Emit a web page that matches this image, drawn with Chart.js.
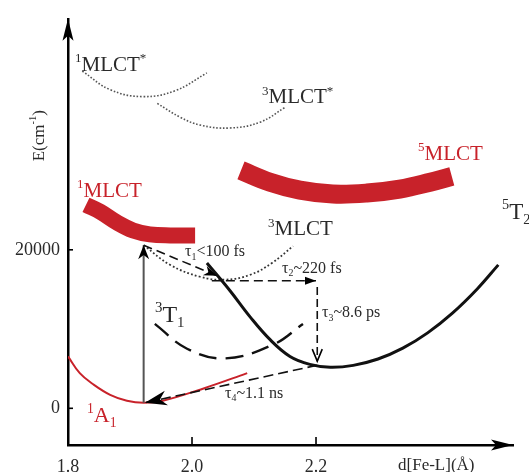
<!DOCTYPE html>
<html><head><meta charset="utf-8">
<script src="https://cdn.jsdelivr.net/npm/chart.js@4"></script>
<style>html,body{margin:0;padding:0;background:#fff;overflow:hidden}</style>
</head><body>
<canvas id="c" width="529" height="472"></canvas>
<script>
// ---- tick labels ----
const xTicks = [1.8, 2.0, 2.2];
const yTicks = [0, 20000];

// ---- potential energy curves (x = d[Fe-L] in Å, y = E in cm^-1) ----
const gsX    = [1.800, 1.819, 1.840, 1.868, 1.895, 1.922, 1.953, 2.021, 2.089];
const gsY    = [6545, 4434, 3068, 1702, 956, 708, 956, 2571, 4434];
const mlct1X = [1.829, 1.852, 1.879, 1.905, 1.932, 1.965, 2.005];
const mlct1Y = [25670, 24800, 23440, 22440, 21950, 21820, 21820];
const mlct5X = [2.079, 2.126, 2.174, 2.227, 2.282, 2.335, 2.384, 2.419];
const mlct5Y = [30020, 28530, 27530, 27040, 27160, 27660, 28530, 29270];
const mlct1sX = [1.823, 1.868, 1.921, 1.973, 2.024];
const mlct1sY = [42560, 40200, 39330, 40080, 42320];
const mlct3sX = [1.944, 1.981, 2.013, 2.061, 2.110, 2.150];
const mlct3sY = [38470, 36730, 35740, 35370, 36110, 37970];
const mlct3X = [1.922, 1.965, 2.013, 2.053, 2.094, 2.129, 2.163];
const mlct3Y = [20580, 18090, 16600, 16230, 16850, 18340, 20460];
const t1X = [1.940, 1.992, 2.053, 2.131, 2.179];
const t1Y = [10650, 7520, 6300, 8040, 10650];
const t2X = [2.024, 2.061, 2.094, 2.126, 2.158, 2.190, 2.223, 2.260, 2.300, 2.340, 2.380, 2.420, 2.460, 2.494];
const t2Y = [18340, 14870, 11510, 8660, 6550, 5550, 5180, 5420, 6220, 7590, 9520, 12010, 15060, 18100];

// ---- transitions (start -> end) ----
const excX  = [1.922, 1.922];  const excY  = [708, 20580];
const tau1X = [1.922, 2.040];  const tau1Y = [20580, 16730];
const tau2X = [2.032, 2.200];  const tau2Y = [16100, 16100];
const tau3X = [2.202, 2.202];  const tau3Y = [15300, 5950];
const tau4X = [2.202, 1.924];  const tau4Y = [5430, 708];

const zip = (xs, ys) => xs.map((x, i) => ({x, y: ys[i]}));

const RED = '#c8222a', INK = '#2a2a2a';
const SERIF = '"Liberation Serif", "Times New Roman", serif';

const curve = (xs, ys, o) => Object.assign({
  data: zip(xs, ys), showLine: true, pointRadius: 0, fill: false,
  tension: 0.4, borderCapStyle: 'butt'
}, o);

const datasets = [
  curve(mlct1X, mlct1Y, {borderColor: RED, borderWidth: 16}),
  curve(mlct5X, mlct5Y, {borderColor: RED, borderWidth: 19}),
  curve(gsX, gsY, {borderColor: RED, borderWidth: 2}),
  curve(mlct1sX, mlct1sY, {borderColor: '#555', borderWidth: 1.6, borderDash: [1.6, 1.8]}),
  curve(mlct3sX, mlct3sY, {borderColor: '#555', borderWidth: 1.6, borderDash: [1.6, 1.8]}),
  curve(mlct3X, mlct3Y, {borderColor: '#333', borderWidth: 1.8, borderDash: [1.8, 2.2]}),
  curve(t1X, t1Y, {borderColor: '#111', borderWidth: 2.4, borderDash: [18, 9]}),
  curve(t2X, t2Y, {borderColor: '#111', borderWidth: 3}),
  curve(excX, excY, {borderColor: '#555', borderWidth: 2, tension: 0, arrow: {type: 'barb', len: 14, w: 5.5}}),
  curve(tau1X, tau1Y, {borderColor: '#111', borderWidth: 1.6, borderDash: [9, 5], tension: 0, arrow: {type: 'barb', len: 13, w: 5}}),
  curve(tau2X, tau2Y, {borderColor: '#111', borderWidth: 1.6, borderDash: [9, 5], tension: 0, arrow: {type: 'fill', len: 11, w: 4}}),
  curve(tau3X, tau3Y, {borderColor: '#111', borderWidth: 1.6, borderDash: [8, 4], tension: 0, arrow: {type: 'open', len: 12, w: 5}}),
  curve(tau4X, tau4Y, {borderColor: '#111', borderWidth: 1.6, borderDash: [10, 5], tension: 0, arrow: {type: 'barb', len: 22, w: 7.5}})
];
datasets.forEach((d, i) => d.order = datasets.length - i);

// ---- text annotations: anchor = left baseline in data coordinates ----
const notes = [
  {parts: [['1', 'sup'], ['MLCT', ''], ['*', 'sup']], x: 1.8113, y: 42560, size: 21, color: INK},
  {parts: [['3', 'sup'], ['MLCT', ''], ['*', 'sup']], x: 2.1129, y: 38470, size: 21, color: INK},
  {parts: [['5', 'sup'], ['MLCT', '']], x: 2.3645, y: 31390, size: 21, color: RED},
  {parts: [['5', 'sup'], ['T', ''], ['2', 'sub']], x: 2.5000, y: 23910, size: 23, color: INK},
  {parts: [['3', 'sup'], ['MLCT', '']], x: 2.1226, y: 21820, size: 21, color: INK},
  {parts: [['1', 'sup'], ['MLCT', '']], x: 1.8145, y: 26670, size: 21, color: RED},
  {parts: [['3', 'sup'], ['T', ''], ['1', 'sub']], x: 1.9403, y: 10890, size: 24, color: INK},
  {parts: [['1', 'sup'], ['A', ''], ['1', 'sub']], x: 1.8306, y: -1776, size: 22, color: RED},
  {parts: [['τ', ''], ['1', 'sub'], ['<100 fs', '']], x: 1.9887, y: 19210, size: 16, color: INK},
  {parts: [['τ', ''], ['2', 'sub'], ['~220 fs', '']], x: 2.1452, y: 17100, size: 16, color: INK},
  {parts: [['τ', ''], ['3', 'sub'], ['~8.6 ps', '']], x: 2.2097, y: 11510, size: 16, color: INK},
  {parts: [['τ', ''], ['4', 'sub'], ['~1.1 ns', '']], x: 2.0532, y: 1329, size: 16, color: INK},
  {parts: [['d[Fe-L](Å)', '']], x: 2.3323, y: -7740, size: 17, color: INK}
];
const yTitle = {parts: [['E(cm', ''], ['-1', 'sup'], [')', '']], offset: 38, y: 34400, size: 17, color: INK};

function richWidth(ctx, parts, size) {
  let w = 0;
  parts.forEach(([t, m]) => {
    const s = m ? size * 0.62 : size;
    ctx.font = s + 'px ' + SERIF;
    w += ctx.measureText(t).width;
  });
  return w;
}
function drawRich(ctx, parts, x, y, size, color) {
  ctx.fillStyle = color;
  ctx.textBaseline = 'alphabetic';
  ctx.textAlign = 'left';
  parts.forEach(([t, m]) => {
    const s = m ? size * 0.62 : size;
    const dy = m === 'sup' ? -size * 0.42 : m === 'sub' ? size * 0.22 : 0;
    ctx.font = s + 'px ' + SERIF;
    ctx.fillText(t, x, y + dy);
    x += ctx.measureText(t).width;
  });
}
function head(ctx, x1, y1, x2, y2, a) {
  const ang = Math.atan2(y2 - y1, x2 - x1);
  ctx.save();
  ctx.translate(x2, y2);
  ctx.rotate(ang);
  ctx.setLineDash([]);
  ctx.fillStyle = '#000';
  ctx.strokeStyle = '#000';
  ctx.lineWidth = 1.6;
  ctx.beginPath();
  if (a.type === 'open') {
    ctx.moveTo(-a.len, -a.w); ctx.lineTo(0, 0); ctx.lineTo(-a.len, a.w);
    ctx.stroke();
  } else {
    ctx.moveTo(0, 0);
    ctx.lineTo(-a.len, -a.w);
    if (a.type === 'barb') ctx.lineTo(-a.len * 0.7, 0);
    ctx.lineTo(-a.len, a.w);
    ctx.closePath();
    ctx.fill();
  }
  ctx.restore();
}

const overlay = {
  id: 'overlay',
  afterDatasetsDraw(chart) {
    const ctx = chart.ctx;
    chart.data.datasets.forEach((ds, i) => {
      if (!ds.arrow) return;
      const pts = chart.getDatasetMeta(i).data;
      const p1 = pts[pts.length - 2], p2 = pts[pts.length - 1];
      head(ctx, p1.x, p1.y, p2.x, p2.y, ds.arrow);
    });
  },
  afterDraw(chart) {
    const ctx = chart.ctx, xs = chart.scales.x, ys = chart.scales.y, ca = chart.chartArea;
    ctx.save();
    // axis arrowheads
    ctx.fillStyle = '#000';
    ctx.beginPath();
    ctx.moveTo(ca.left, ca.top); ctx.lineTo(ca.left - 5.5, ca.top + 22); ctx.lineTo(ca.left, ca.top + 17); ctx.lineTo(ca.left + 5.5, ca.top + 22); ctx.closePath(); ctx.fill();
    ctx.beginPath();
    ctx.moveTo(ca.right, ca.bottom); ctx.lineTo(ca.right - 22, ca.bottom - 5.5); ctx.lineTo(ca.right - 17, ca.bottom); ctx.lineTo(ca.right - 22, ca.bottom + 5.5); ctx.closePath(); ctx.fill();
    // inward tick marks
    ctx.strokeStyle = '#000'; ctx.lineWidth = 1.6;
    xTicks.forEach(v => { const px = xs.getPixelForValue(v); ctx.beginPath(); ctx.moveTo(px, ca.bottom); ctx.lineTo(px, ca.bottom - 8); ctx.stroke(); });
    yTicks.forEach(v => { const py = ys.getPixelForValue(v); ctx.beginPath(); ctx.moveTo(ca.left, py); ctx.lineTo(ca.left + 5, py); ctx.stroke(); });
    // text annotations
    notes.forEach(n => drawRich(ctx, n.parts, xs.getPixelForValue(n.x), ys.getPixelForValue(n.y), n.size, n.color));
    // y axis title (rotated)
    const w = richWidth(ctx, yTitle.parts, yTitle.size);
    ctx.translate(ys.left + yTitle.offset, ys.getPixelForValue(yTitle.y));
    ctx.rotate(-Math.PI / 2);
    drawRich(ctx, yTitle.parts, -w / 2, yTitle.size * 0.33, yTitle.size, yTitle.color);
    ctx.restore();
  }
};

new Chart(document.getElementById('c'), {
  type: 'scatter',
  data: {datasets},
  options: {
    responsive: false, animation: false, devicePixelRatio: 1,
    layout: {padding: {top: 12, right: 16, bottom: 0, left: 0}},
    plugins: {legend: {display: false}, tooltip: {enabled: false}},
    scales: {
      x: {
        type: 'linear', min: 1.8, max: 2.5177, position: 'bottom',
        grid: {display: false, drawTicks: false},
        border: {display: true, color: '#000', width: 2.5},
        ticks: {color: INK, padding: 11, font: {family: SERIF, size: 18}, callback: v => v.toFixed(1)},
        afterBuildTicks: s => { s.ticks = xTicks.map(v => ({value: v})); },
        afterFit: s => { s.height = 27; }
      },
      y: {
        type: 'linear', min: -4630, max: 49150, position: 'left',
        grid: {display: false, drawTicks: false},
        border: {display: true, color: '#000', width: 2.5},
        ticks: {color: INK, padding: 8, font: {family: SERIF, size: 18}, callback: v => String(v)},
        afterBuildTicks: s => { s.ticks = yTicks.map(v => ({value: v})); },
        afterFit: s => { s.width = 68; }
      }
    }
  },
  plugins: [overlay]
});
</script>
</body></html>
